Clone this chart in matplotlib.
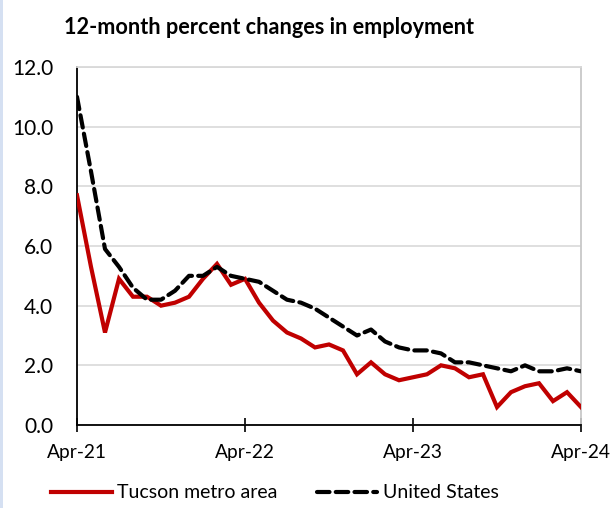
import matplotlib
matplotlib.use("Agg")
import matplotlib.pyplot as plt
from matplotlib.patches import Rectangle

plt.rcParams['font.family'] = ['Lato', 'DejaVu Sans']

tick_labels = ["Apr-21", "Apr-22", "Apr-23", "Apr-24"]
y_ticks = [0, 2, 4, 6, 8, 10, 12]

tucson = [7.7, 5.3, 3.1, 4.9, 4.3, 4.3, 4.0, 4.1, 4.3, 4.9, 5.4, 4.7,
          4.9, 4.1, 3.5, 3.1, 2.9, 2.6, 2.7, 2.5, 1.7, 2.1, 1.7, 1.5,
          1.6, 1.7, 2.0, 1.9, 1.6, 1.7, 0.6, 1.1, 1.3, 1.4, 0.8, 1.1, 0.6]
us = [11.0, 8.5, 5.9, 5.3, 4.6, 4.2, 4.2, 4.5, 5.0, 5.0, 5.3, 5.0,
      4.9, 4.8, 4.5, 4.2, 4.1, 3.9, 3.6, 3.3, 3.0, 3.2, 2.8, 2.6,
      2.5, 2.5, 2.4, 2.1, 2.1, 2.0, 1.9, 1.8, 2.0, 1.8, 1.8, 1.9, 1.8]

months = list(range(len(tucson)))

fig = plt.figure(figsize=(6.16, 5.08), dpi=100)
fig.patches.append(Rectangle((0, 0), 3 / 616, 1, transform=fig.transFigure,
                             facecolor='#D5E0F2', edgecolor='none'))
ax = fig.add_axes([77 / 616, 1 - 425 / 508, (581 - 77) / 616, (425 - 67) / 508])

ax.plot(months, tucson, color='#C00000', lw=3.0, label='Tucson metro area',
        solid_joinstyle='miter', zorder=3)
ax.plot(months, us, color='black', lw=3.0, linestyle=(0, (3.0, 1.5)),
        dash_capstyle='round', label='United States', zorder=4)

ax.set_xlim(0, 36)
ax.set_ylim(0, 12)
ax.set_yticks(y_ticks)
ax.set_yticklabels([f"{v:.1f}" for v in y_ticks])
ax.set_xticks([0, 12, 24, 36])
ax.set_xticklabels(tick_labels)
ax.yaxis.grid(True, color='#D9D9D9', lw=1.2)
ax.set_axisbelow(True)

ax.tick_params(axis='y', length=0, pad=17, labelsize=15, colors='black')
ax.tick_params(axis='x', direction='inout', length=10, width=1.2, pad=9,
               labelsize=13.8, colors='black')

for s in ['left', 'bottom']:
    ax.spines[s].set_color('black')
    ax.spines[s].set_linewidth(1.3)
for s in ['top', 'right']:
    ax.spines[s].set_color('#C8C8C8')
    ax.spines[s].set_linewidth(1.3)
ax.spines['top'].set_color('#D9D9D9')

fig.text(269 / 616, 1 - 28 / 508, "12-month percent changes in employment",
         ha='center', va='center', fontsize=15.6, fontweight='bold')

leg = fig.legend(loc='center', bbox_to_anchor=(275 / 616, 1 - 493 / 508), ncol=2,
                 frameon=False, fontsize=14, handlelength=3.1, handletextpad=0.3,
                 columnspacing=2.0)

fig.savefig("out.png", dpi=100)
